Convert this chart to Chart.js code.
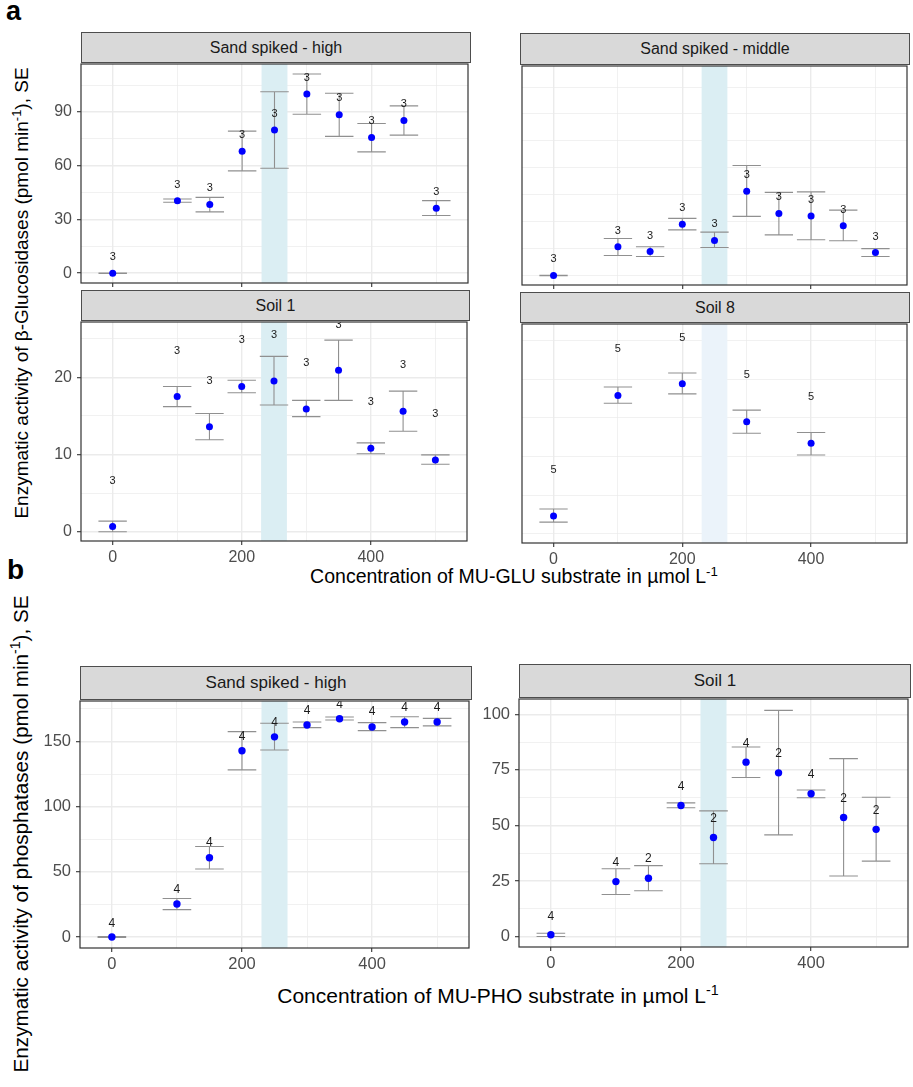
<!DOCTYPE html>
<html>
<head>
<meta charset="utf-8">
<script src="https://cdn.jsdelivr.net/npm/chart.js@4.4.1/dist/chart.umd.min.js"></script>
<style>
  body { margin: 0; background: #fff; font-family: "Liberation Sans", Arial, sans-serif; }
  #fig { position: relative; width: 913px; height: 1087px; overflow: hidden; background: #fff; }
  #fig canvas { position: absolute; }
  .strip { position: absolute; background: #d9d9d9; border: 1px solid #4d4d4d; box-sizing: border-box;
           text-align: center; color: #1a1a1a; white-space: nowrap; }
  .tag { position: absolute; font-weight: bold; line-height: 1; color: #000; }
  .ytitle { position: absolute; white-space: nowrap; line-height: 1; color: #000;
            transform: translate(-50%, -50%) rotate(-90deg); }
  .xtitle { position: absolute; white-space: nowrap; line-height: 1; color: #000; transform: translateX(-50%); }
  .xtitle sup, .ytitle sup { font-size: 0.68em; vertical-align: 0; position: relative; top: -0.55em; line-height: 0; }
</style>
</head>
<body>
<div id="fig">
  <div class="tag" style="left:6px;top:-2px;font-size:27px;">a</div>
  <div class="tag" style="left:7px;top:556px;font-size:28px;">b</div>
  <div class="ytitle" style="left:21px;top:293px;font-size:19px;">Enzymatic activity of β-Glucosidases (pmol min<sup>-1</sup>), SE</div>
  <div class="ytitle" style="left:21px;top:834px;font-size:20.7px;">Enzymatic activity of phosphatases (pmol min<sup>-1</sup>), SE</div>
  <div class="xtitle" style="left:514px;top:567px;font-size:19.5px;">Concentration of MU-GLU substrate in µmol L<sup>-1</sup></div>
  <div class="xtitle" style="left:498px;top:985px;font-size:21px;">Concentration of MU-PHO substrate in µmol L<sup>-1</sup></div>
</div>
<script>
// substrate concentrations (µmol/L)
const concAll = [0, 100, 150, 200, 250, 300, 350, 400, 450, 500];
const concSoil8 = [0, 100, 200, 300, 400];
const xTicks = [0, 100, 200, 300, 400, 500];
const xTickLabels = [0, 200, 400];
const bandRange = [230, 270];

// a) beta-glucosidases - sand spiked high
const gluHighMean = [0, 40.5, 38.3, 68.1, 79.9, 100.0, 88.4, 75.7, 85.2, 36.2];
const gluHighLo   = [-0.1, 39.6, 34.2, 57.1, 58.6, 88.7, 76.4, 67.7, 77.1, 32.2];
const gluHighHi   = [0.1, 41.4, 42.3, 79.3, 101.3, 111.2, 100.5, 83.6, 93.4, 40.5];
const gluHighN    = [3, 3, 3, 3, 3, 3, 3, 3, 3, 3];
const gluHighNY   = [9, 49.5, 47.3, 77.3, 89, 109, 97.6, 85.1, 94.6, 45.5];

// a) beta-glucosidases - sand spiked middle
const gluMidMean = [-0.2, 15.8, 13.2, 28.4, 19.4, 46.9, 34.4, 33.0, 27.6, 12.6];
const gluMidLo   = [-0.3, 11.0, 10.4, 25.3, 15.4, 32.8, 22.5, 19.8, 19.2, 10.4];
const gluMidHi   = [-0.1, 20.5, 15.9, 31.7, 24.0, 61.2, 46.2, 46.5, 36.3, 14.8];
const gluMidN    = [3, 3, 3, 3, 3, 3, 3, 3, 3, 3];
const gluMidNY   = [8.8, 24.7, 22.0, 37.4, 28.6, 55.7, 43.6, 42.1, 36.6, 21.6];

// a) beta-glucosidases - soil 1
const gluSoil1Mean = [0.69, 17.5, 13.6, 18.8, 19.5, 15.9, 20.9, 10.8, 15.6, 9.3];
const gluSoil1Lo   = [0.0, 16.2, 11.9, 18.0, 16.4, 14.9, 17.0, 10.1, 13.0, 8.74];
const gluSoil1Hi   = [1.37, 18.8, 15.3, 19.6, 22.7, 17.0, 24.8, 11.5, 18.2, 9.95];
const gluSoil1N    = [3, 3, 3, 3, 3, 3, 3, 3, 3, 3];
const gluSoil1NY   = [6.6, 23.4, 19.5, 24.8, 25.5, 21.9, 26.8, 16.8, 21.6, 15.3];

// a) beta-glucosidases - soil 8
const gluSoil8Mean = [2.3, 17.9, 19.4, 14.5, 11.7];
const gluSoil8Lo   = [1.5, 16.9, 18.1, 13.0, 10.2];
const gluSoil8Hi   = [3.2, 19.0, 20.8, 16.0, 13.1];
const gluSoil8N    = [5, 5, 5, 5, 5];
const gluSoil8NY   = [8.3, 23.9, 25.4, 20.5, 17.7];

// b) phosphatases - sand spiked high
const phoHighMean = [0, 25.3, 60.8, 142.9, 153.5, 162.6, 167.4, 161.1, 164.9, 164.9];
const phoHighLo   = [-0.4, 21.0, 52.2, 128.2, 143.4, 160.6, 166.4, 158.3, 160.6, 161.9];
const phoHighHi   = [0.4, 29.6, 69.4, 157.5, 163.9, 164.9, 168.7, 164.4, 168.9, 167.7];
const phoHighN    = [4, 4, 4, 4, 4, 4, 4, 4, 4, 4];
const phoHighNY   = [10.4, 36.5, 72, 153.7, 164.4, 173.5, 178.3, 172.5, 175.5, 175.5];

// b) phosphatases - soil 1
const phoSoil1Mean = [0.9, 24.8, 26.3, 59.0, 44.6, 78.5, 73.7, 64.3, 53.6, 48.3];
const phoSoil1Lo   = [0.1, 19.0, 20.7, 58.0, 32.8, 71.6, 45.8, 62.5, 27.3, 34.0];
const phoSoil1Hi   = [1.6, 30.6, 32.0, 60.2, 56.6, 85.3, 101.8, 66.0, 80.1, 62.7];
const phoSoil1N    = [4, 4, 2, 4, 2, 4, 2, 4, 2, 2];
const phoSoil1NY   = [9.2, 33.4, 34.9, 67.5, 53.2, 86.9, 82.3, 72.8, 62.1, 56.8];

// y tick sets (minor + labelled major)
const gluTopTicks = [0, 15, 30, 45, 60, 75, 90, 105];
const gluTopMajor = [0, 30, 60, 90];
const gluBotTicks = [0, 5, 10, 15, 20, 25];
const gluBotMajor = [0, 10, 20];
const phoHighTicks = [0, 25, 50, 75, 100, 125, 150, 175];
const phoHighMajor = [0, 50, 100, 150];
const phoSoil1Ticks = [0, 12.5, 25, 37.5, 50, 62.5, 75, 87.5, 100];
const phoSoil1Major = [0, 25, 50, 75, 100];

Chart.defaults.font.family = '"Liberation Sans", Arial, sans-serif';

const decor = {
  id: 'decor',
  beforeDatasetsDraw(chart, args, o) {
    const { ctx, chartArea: a, scales: { x, y } } = chart;
    ctx.save();
    const b0 = x.getPixelForValue(o.band[0]), b1 = x.getPixelForValue(o.band[1]);
    ctx.fillStyle = o.bandColor;
    ctx.fillRect(b0, a.top, b1 - b0, a.bottom - a.top);
    ctx.strokeStyle = '#909090';
    ctx.lineWidth = 1.1;
    o.xs.forEach((v, i) => {
      const px = x.getPixelForValue(v);
      const l = x.getPixelForValue(v - 22), r = x.getPixelForValue(v + 22);
      const yl = y.getPixelForValue(o.lo[i]), yh = y.getPixelForValue(o.hi[i]);
      ctx.beginPath();
      ctx.moveTo(px, yl); ctx.lineTo(px, yh);
      ctx.moveTo(l, yl); ctx.lineTo(r, yl);
      ctx.moveTo(l, yh); ctx.lineTo(r, yh);
      ctx.stroke();
    });
    ctx.restore();
  },
  afterDatasetsDraw(chart, args, o) {
    const { ctx, chartArea: a, scales: { x, y } } = chart;
    ctx.save();
    ctx.beginPath();
    ctx.rect(a.left, a.top, a.right - a.left, a.bottom - a.top);
    ctx.clip();
    ctx.fillStyle = '#1a1a1a';
    ctx.font = o.nSize + 'px "Liberation Sans", Arial, sans-serif';
    ctx.textAlign = 'center';
    ctx.textBaseline = 'middle';
    o.xs.forEach((v, i) => {
      ctx.fillText(String(o.n[i]), x.getPixelForValue(v), y.getPixelForValue(o.nY[i]));
    });
    ctx.restore();
    ctx.save();
    ctx.strokeStyle = '#333333';
    ctx.lineWidth = 1.2;
    ctx.strokeRect(a.left, a.top, a.right - a.left, a.bottom - a.top);
    ctx.restore();
  }
};

function addPanel(p) {
  const fig = document.getElementById('fig');
  const padL = 2, padT = 2, padR = 2;
  const yW = p.showY ? p.yW : 0;
  const xH = p.showX ? 28 : 4;
  const plotW = p.r - p.l, plotH = p.b - p.t;

  const strip = document.createElement('div');
  strip.className = 'strip';
  strip.style.left = p.l + 'px';
  strip.style.top = p.stripTop + 'px';
  strip.style.width = (plotW + 1) + 'px';
  strip.style.height = (p.t - p.stripTop + 1) + 'px';
  strip.style.lineHeight = (p.t - p.stripTop - 1) + 'px';
  strip.style.fontSize = p.stripSize + 'px';
  strip.textContent = p.title;
  fig.appendChild(strip);

  const cv = document.createElement('canvas');
  const W = padL + yW + plotW + padR, H = padT + plotH + xH;
  cv.width = W; cv.height = H;
  cv.style.width = W + 'px'; cv.style.height = H + 'px';
  cv.style.left = (p.l - yW - padL) + 'px';
  cv.style.top = (p.t - padT) + 'px';
  fig.appendChild(cv);

  const gridOpts = (major) => ({
    color: '#ebebeb',
    lineWidth: c => (c.tick && major.includes(c.tick.value)) ? 1.4 : 0.7,
    tickLength: 4,
    tickColor: c => (c.tick && major.includes(c.tick.value)) ? '#333333' : 'rgba(0,0,0,0)',
    tickWidth: 1.1
  });

  new Chart(cv, {
    type: 'scatter',
    data: {
      datasets: [{
        data: p.xs.map((v, i) => ({ x: v, y: p.mean[i] })),
        backgroundColor: '#0000ff',
        borderWidth: 0,
        pointRadius: p.ptR,
        clip: false
      }]
    },
    options: {
      responsive: false,
      animation: false,
      events: [],
      layout: { padding: { left: padL, top: padT, right: padR, bottom: 0 } },
      plugins: {
        legend: { display: false },
        tooltip: { enabled: false },
        decor: {
          xs: p.xs, lo: p.lo, hi: p.hi, n: p.n, nY: p.nY,
          band: bandRange, bandColor: p.bandColor, nSize: p.nSize
        }
      },
      scales: {
        x: {
          type: 'linear', min: -49, max: 549, bounds: 'data',
          afterBuildTicks: s => { s.ticks = xTicks.map(v => ({ value: v })); },
          afterFit: s => { s.height = xH; s.paddingLeft = 0; s.paddingRight = 0; },
          ticks: {
            display: p.showX, autoSkip: false, maxRotation: 0, padding: 3,
            color: '#4d4d4d', font: { size: p.tickSize },
            callback: v => xTickLabels.includes(v) ? String(v) : ''
          },
          grid: gridOpts(xTickLabels),
          border: { display: false }
        },
        y: {
          type: 'linear', min: p.yMin, max: p.yMax, bounds: 'data',
          afterBuildTicks: s => { s.ticks = p.yTicks.map(v => ({ value: v })); },
          afterFit: s => { s.width = yW; s.paddingTop = 0; s.paddingBottom = 0; },
          ticks: {
            display: p.showY, autoSkip: false, padding: 5,
            color: '#4d4d4d', font: { size: p.tickSize },
            callback: v => p.yMajor.includes(v) ? String(v) : ''
          },
          grid: Object.assign(gridOpts(p.showY ? p.yMajor : []), { drawTicks: p.showY }),
          border: { display: false }
        }
      }
    },
    plugins: [decor]
  });
}

const bandBlue = '#dbeef3';
const bandPale = '#ebf3fa';

addPanel({ title: 'Sand spiked - high', l: 81, t: 62, r: 470, b: 283, stripTop: 32,
  xs: concAll, mean: gluHighMean, lo: gluHighLo, hi: gluHighHi, n: gluHighN, nY: gluHighNY,
  yMin: -5.5, yMax: 116.8, yTicks: gluTopTicks, yMajor: gluTopMajor,
  showY: true, showX: false, yW: 46, bandColor: bandBlue,
  tickSize: 16, stripSize: 16, nSize: 11, ptR: 3.5 });

addPanel({ title: 'Sand spiked - middle', l: 520, t: 64, r: 909, b: 285, stripTop: 33,
  xs: concAll, mean: gluMidMean, lo: gluMidLo, hi: gluMidHi, n: gluMidN, nY: gluMidNY,
  yMin: -5.5, yMax: 116.8, yTicks: gluTopTicks, yMajor: gluTopMajor,
  showY: false, showX: false, yW: 0, bandColor: bandBlue,
  tickSize: 16, stripSize: 16, nSize: 11, ptR: 3.5 });

addPanel({ title: 'Soil 1', l: 81, t: 320, r: 469, b: 541, stripTop: 290,
  xs: concAll, mean: gluSoil1Mean, lo: gluSoil1Lo, hi: gluSoil1Hi, n: gluSoil1N, nY: gluSoil1NY,
  yMin: -1.2, yMax: 27.15, yTicks: gluBotTicks, yMajor: gluBotMajor,
  showY: true, showX: true, yW: 46, bandColor: bandBlue,
  tickSize: 16, stripSize: 16, nSize: 11, ptR: 3.5 });

addPanel({ title: 'Soil 8', l: 520, t: 322, r: 909, b: 543, stripTop: 292,
  xs: concSoil8, mean: gluSoil8Mean, lo: gluSoil8Lo, hi: gluSoil8Hi, n: gluSoil8N, nY: gluSoil8NY,
  yMin: -1.2, yMax: 27.15, yTicks: gluBotTicks, yMajor: gluBotMajor,
  showY: false, showX: true, yW: 0, bandColor: bandPale,
  tickSize: 16, stripSize: 16, nSize: 11, ptR: 3.5 });

addPanel({ title: 'Sand spiked - high', l: 80, t: 699, r: 471, b: 948, stripTop: 666,
  xs: concAll, mean: phoHighMean, lo: phoHighLo, hi: phoHighHi, n: phoHighN, nY: phoHighNY,
  yMin: -8.4, yMax: 181, yTicks: phoHighTicks, yMajor: phoHighMajor,
  showY: true, showX: true, yW: 46, bandColor: bandBlue,
  tickSize: 16.5, stripSize: 17, nSize: 12, ptR: 3.7 });

addPanel({ title: 'Soil 1', l: 519, t: 697, r: 910, b: 947, stripTop: 664,
  xs: concAll, mean: phoSoil1Mean, lo: phoSoil1Lo, hi: phoSoil1Hi, n: phoSoil1N, nY: phoSoil1NY,
  yMin: -4.6, yMax: 106.9, yTicks: phoSoil1Ticks, yMajor: phoSoil1Major,
  showY: true, showX: true, yW: 42, bandColor: bandBlue,
  tickSize: 16.5, stripSize: 17, nSize: 12, ptR: 3.7 });
</script>
</body>
</html>
